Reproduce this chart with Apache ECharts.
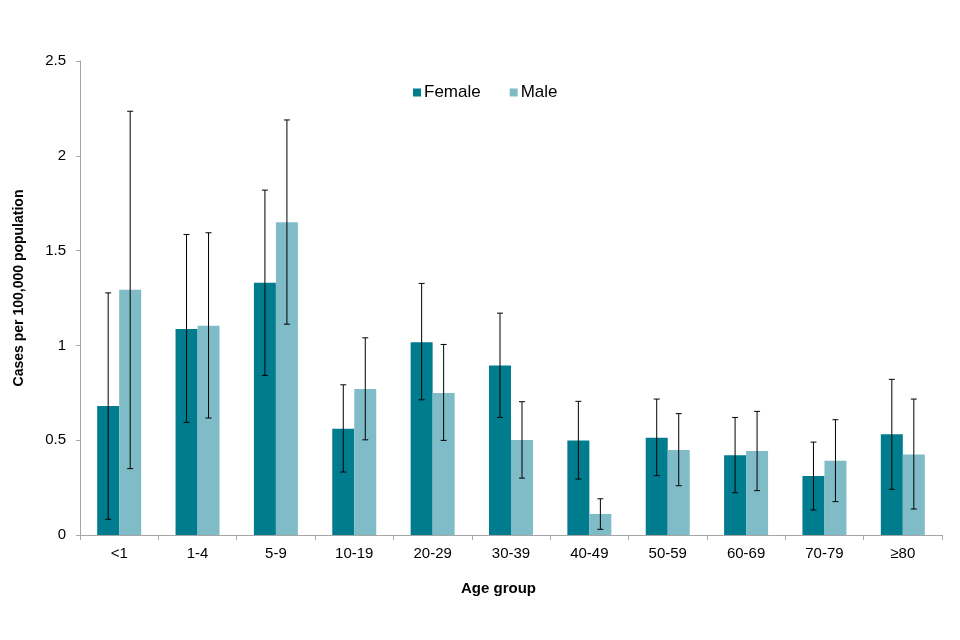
<!DOCTYPE html>
<html>
<head>
<meta charset="utf-8">
<script src="https://cdn.jsdelivr.net/npm/echarts@6/dist/echarts.min.js"></script>
<style>html,body{margin:0;padding:0;background:#fff;}#c{width:960px;height:640px;}</style>
</head>
<body>
<div id="c"></div>
<script>
var categories = ['<1','1-4','5-9','10-19','20-29','30-39','40-49','50-59','60-69','70-79','≥80'];
var female = [0.68, 1.086, 1.33, 0.56, 1.017, 0.894, 0.499, 0.513, 0.42, 0.311, 0.531];
var femaleLow = [0.083, 0.594, 0.842, 0.332, 0.713, 0.62, 0.295, 0.313, 0.223, 0.132, 0.241];
var femaleHigh = [1.277, 1.585, 1.819, 0.792, 1.327, 1.17, 0.705, 0.717, 0.62, 0.49, 0.821];
var male = [1.293, 1.103, 1.65, 0.77, 0.749, 0.501, 0.111, 0.448, 0.443, 0.392, 0.425];
var maleLow = [0.35, 0.617, 1.112, 0.502, 0.499, 0.3, 0.03, 0.26, 0.234, 0.176, 0.137];
var maleHigh = [2.235, 1.594, 2.189, 1.04, 1.005, 0.703, 0.191, 0.64, 0.652, 0.608, 0.717];
var yTicks = [0, 0.5, 1, 1.5, 2, 2.5];

var BAR_W = 22;
function errData(lo, hi) {
  return categories.map(function (c, i) { return [i, lo[i], hi[i]]; });
}
function errRender(offset) {
  return function (params, api) {
    var i = api.value(0);
    var lo = api.coord([i, api.value(1)]);
    var hi = api.coord([i, api.value(2)]);
    var x = lo[0] + offset;
    var cap = 3;
    var style = { stroke: '#000', lineWidth: 1 };
    return {
      type: 'group',
      children: [
        { type: 'line', shape: { x1: x, y1: hi[1], x2: x, y2: lo[1] }, style: style },
        { type: 'line', shape: { x1: x - cap, y1: hi[1], x2: x + cap, y2: hi[1] }, style: style },
        { type: 'line', shape: { x1: x - cap, y1: lo[1], x2: x + cap, y2: lo[1] }, style: style }
      ]
    };
  };
}

var chart = echarts.init(document.getElementById('c'), null, { renderer: 'canvas' });
chart.setOption({
  animation: false,
  textStyle: { fontFamily: 'Liberation Sans, Arial, sans-serif' },
  legend: {
    top: 79,
    left: 408,
    itemWidth: 8,
    itemHeight: 8,
    itemGap: 29,
    icon: 'rect',
    textStyle: { fontSize: 17, color: '#000', padding: [0, 0, 0, -2], fontFamily: 'Liberation Sans, Arial, sans-serif' },
    data: ['Female', 'Male']
  },
  grid: { left: 80, right: 18, top: 61, bottom: 105, containLabel: false },
  xAxis: {
    type: 'category',
    data: categories,
    name: 'Age group',
    nameLocation: 'middle',
    nameGap: 46,
    nameTextStyle: { fontSize: 15, fontWeight: 'bold', color: '#000', padding: [0, 25, 0, 0] },
    axisLine: { lineStyle: { color: '#a6a6a6' } },
    axisTick: { show: true, alignWithLabel: false, length: 5, lineStyle: { color: '#a6a6a6' } },
    axisLabel: { fontSize: 15, color: '#000', margin: 11, interval: 0 },
    splitLine: { show: false }
  },
  yAxis: {
    type: 'value',
    min: 0,
    max: 2.5,
    interval: 0.5,
    name: 'Cases per 100,000 population',
    nameLocation: 'middle',
    nameGap: 54,
    nameTextStyle: { fontSize: 14, fontWeight: 'bold', color: '#000', padding: [0, 0, 0, 20] },
    axisLine: { show: true, lineStyle: { color: '#a6a6a6' } },
    axisTick: { show: true, length: 4, lineStyle: { color: '#a6a6a6' } },
    axisLabel: { fontSize: 15, color: '#000', margin: 14, formatter: function (v) { return String(v); } },
    splitLine: { show: false }
  },
  series: [
    { name: 'Female', type: 'bar', data: female, barWidth: BAR_W, barGap: '0%', itemStyle: { color: '#007C8F' } },
    { name: 'Male', type: 'bar', data: male, barWidth: BAR_W, barGap: '0%', itemStyle: { color: '#80BCC8' } },
    { name: 'FemaleErr', type: 'custom', data: errData(femaleLow, femaleHigh), renderItem: errRender(-BAR_W / 2), z: 10, silent: true, encode: { x: 0, y: [1, 2] } },
    { name: 'MaleErr', type: 'custom', data: errData(maleLow, maleHigh), renderItem: errRender(BAR_W / 2), z: 10, silent: true, encode: { x: 0, y: [1, 2] } }
  ]
});
</script>
</body>
</html>
